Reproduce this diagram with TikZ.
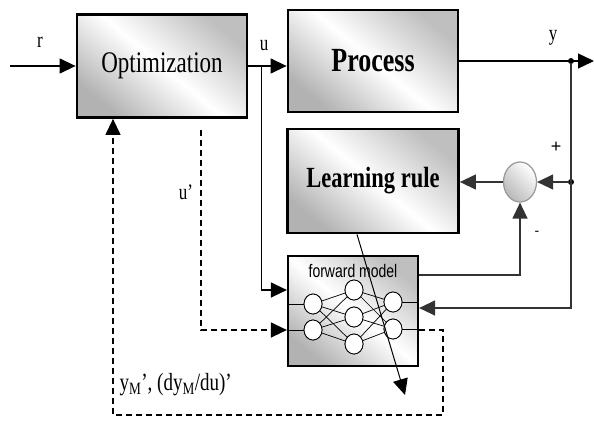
\documentclass[tikz,border=0pt]{standalone}
\usepackage{fontspec}
\setmainfont{Liberation Serif}
\newfontfamily\fwdfont{Liberation Sans}
\usetikzlibrary{arrows.meta,shapes.geometric}
\newcommand{\tallt}[1]{\scalebox{1}[1.3]{#1}}

\begin{document}
\begin{tikzpicture}[x=1pt, y=-1pt]
		\def\toprow{61}
		\def\midrow{181}
		\def\lowrow{311}
		\def\acol{162}
		\def\bcol{373}

		\tikzset{
			basic/.style={rectangle, draw=black, line width=2.8pt, inner sep=0pt, top color=gray!50, bottom color=gray!60, middle color=white, shading angle=-40},
			bignode/.style={basic, minimum width=170pt, minimum height=103pt},
			fwdnode/.style={basic, line width=2.2pt, minimum width=130pt, minimum height=110pt},
			sumnode/.style={ellipse, draw=gray!80, line width=1.2pt, inner sep=0pt, minimum width=33pt, minimum height=40pt, top color=white, bottom color=gray!55, shading angle=-45},
			neuron/.style={ellipse, draw=black, line width=0.8pt, fill=white, inner sep=0pt, minimum width=18pt, minimum height=20pt},
			branch/.style={fill, circle, minimum size=6pt, inner sep=0pt, outer sep=-1pt},
			lbl/.style={font=\fontsize{17}{17}\selectfont},
			sarrow/.style={-{Triangle[length=16pt,width=15pt]}, line width=1.3pt},
			garrow/.style={sarrow, draw=gray!40!black},
			darrow/.style={sarrow, dash pattern=on 6pt off 4pt},
			nnline/.style={line width=0.7pt}
		}

		\useasboundingbox (0,0) rectangle (594,421);

		% blocks

		\node[bignode] (opt)   at (\acol,66)     {\fontsize{23}{23}\selectfont\tallt{Optimization}};
		\node[bignode, minimum height=102pt] (proc)  at (\bcol,\toprow) {\fontsize{26}{26}\selectfont\bfseries\tallt{Process}};
		\node[bignode, minimum width=171pt, minimum height=104pt] (learn) at (\bcol,\midrow) {\fontsize{22.5}{22.5}\selectfont\bfseries\tallt{Learning rule}};
		\node[sumnode] (sum) at (520,182) {};
		\node[fwdnode] (fwd) at (353,\lowrow) {};

		% forward model network

		\node[font=\fwdfont\fontsize{14}{14}\selectfont] (fwdtxt) at (353,271) {\tallt{forward model}};
		\node[neuron] (in1)  at (313,304) {};
		\node[neuron] (in2)  at (313,330) {};
		\node[neuron] (hid1) at (354,290) {};
		\node[neuron] (hid2) at (354,317) {};
		\node[neuron] (hid3) at (354,344) {};
		\node[neuron] (out1) at (393,302) {};
		\node[neuron] (out2) at (393,329) {};

		\foreach \i in {1,2} {
			\draw[nnline] (fwd.west |- in\i) -- (in\i);
			\draw[nnline] (out\i) -- (out\i -| fwd.east);
			\foreach \h in {1,2,3} {
				\draw[nnline] (in\i) -- (hid\h);
				\draw[nnline] (hid\h) -- (out\i);
			}
		}
		\foreach \n in {in1,in2,hid1,hid2,hid3,out1,out2}
			\node[neuron] at (\n) {};

		% signal arrows

		\coordinate (rin) at (10,66);
		\draw[sarrow] (rin) -- (opt.west);
		\node[lbl] (lr) at (40,42) {\tallt{r}};

		\draw[sarrow] (opt.east) -- (opt.east -| proc.west);
		\node[lbl] (lu) at (264,46) {\tallt{u}};
		\coordinate (bu) at ([xshift=13pt]opt.east);
		\draw[sarrow] (bu) |- ([yshift=21pt]fwd.west);

		\coordinate (yout) at (594,\toprow);
		\draw[sarrow] (proc.east) -- (yout);
		\node[lbl] (ly) at (553,38) {\tallt{y}};
		\node[branch] (dy) at (571,\toprow) {};
		\node[branch] (ds) at (571,182) {};
		\draw[garrow] (dy) |- ([yshift=3pt]fwd.east);
		\draw[garrow] (ds) -- (sum.east);
		\draw[garrow] (sum.west) -- (sum.west -| learn.east);
		\draw[garrow] ([yshift=36pt]fwd.east) -| (sum.south);
		\node[font=\fwdfont\fontsize{18}{18}\selectfont] (lplus) at (556,147) {+};
		\node[font=\fwdfont\fontsize{14}{14}\selectfont] (lminus) at (537,233) {-};

		% dashed model signals

		\coordinate (uprime) at (201,130);
		\draw[darrow] (uprime) |- ([yshift=-19pt]fwd.west);
		\node[lbl] (lup) at (186,192) {\tallt{u’}};

		\coordinate (dc) at (443,415);
		\draw[darrow] ([yshift=-19pt]fwd.east) -| (dc) -| ([xshift=-49pt]opt.south);
		\node[lbl, anchor=west, font=\fontsize{19}{19}\selectfont] (lym) at (116,385) {\tallt{y\textsubscript{M}’, (dy\textsubscript{M}/du)’}};

		% learning update
		\coordinate (tip) at (405,395);
		\draw[sarrow, line width=1pt] ([xshift=-16pt]learn.south) -- (tip);
\end{tikzpicture}
\end{document}
